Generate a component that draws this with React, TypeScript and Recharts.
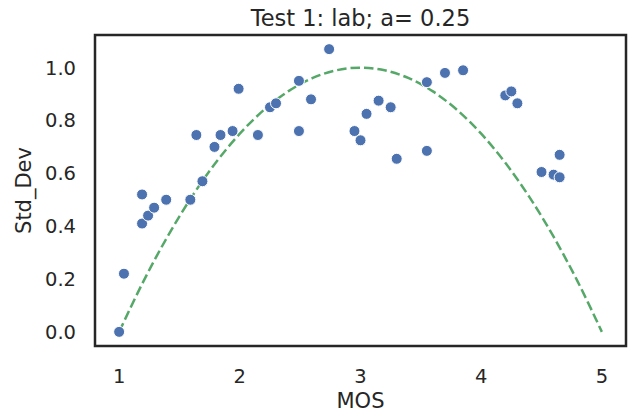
import { ComposedChart, Line, ReferenceArea, Scatter, XAxis, YAxis } from 'recharts';

// observed points (MOS vs std dev)
const mosValues = [
  1.0, 1.04, 1.19, 1.19, 1.24, 1.29, 1.39, 1.59, 1.69, 1.64, 1.79, 1.84, 1.94, 1.99, 2.15, 2.25, 2.3, 2.49,
  2.49, 2.59, 2.74, 2.95, 3.0, 3.05, 3.15, 3.25, 3.3, 3.55, 3.55, 3.7, 3.85, 4.2, 4.25, 4.3, 4.65, 4.5, 4.6,
  4.65,
];
const stdValues = [
  0.0, 0.22, 0.52, 0.41, 0.44, 0.47, 0.5, 0.5, 0.57, 0.745, 0.7, 0.745, 0.76, 0.92, 0.745, 0.85, 0.865, 0.76,
  0.95, 0.88, 1.07, 0.76, 0.725, 0.825, 0.875, 0.85, 0.655, 0.685, 0.945, 0.98, 0.99, 0.895, 0.91, 0.865, 0.67,
  0.605, 0.595, 0.585,
];

// fitted SOS curve, a = 0.25
const curveMos = [1.0, 1.2, 1.4, 1.6, 1.8, 2.0, 2.2, 2.4, 2.6, 2.8, 3.0, 3.2, 3.4, 3.6, 3.8, 4.0, 4.2, 4.4, 4.6, 4.8, 5.0];
const curveStd = [0, 0.19, 0.36, 0.51, 0.64, 0.75, 0.84, 0.91, 0.96, 0.99, 1.0, 0.99, 0.96, 0.91, 0.84, 0.75, 0.64, 0.51, 0.36, 0.19, 0];

const xTicks = [1, 2, 3, 4, 5];
const yTicks = [0, 0.2, 0.4, 0.6, 0.8, 1.0];

const TEXT = '#262626';
const FONT = '"DejaVu Sans", sans-serif';

const points = mosValues.map((x, i) => ({ x, y: stdValues[i] }));
const curve = curveMos.map((x, i) => ({ x, y: curveStd[i] }));

const X_DOMAIN: [number, number] = [0.8, 5.2];
const Y_DOMAIN: [number, number] = [-0.0535, 1.1235];

export default function App() {
  return (
    <div style={{ position: 'absolute', left: 0, top: 0, width: 628, height: 413, background: '#fff', fontFamily: FONT }}>
      <div
        style={{
          position: 'absolute',
          left: 95,
          width: 531,
          top: 5,
          textAlign: 'center',
          fontSize: 22.5,
          lineHeight: 'normal',
          color: TEXT,
          whiteSpace: 'nowrap',
        }}
      >
        Test 1: lab; a= 0.25
      </div>
      <ComposedChart width={628} height={413} margin={{ top: 35, right: 2, bottom: 7, left: 0 }}>
        <XAxis
          type="number"
          dataKey="x"
          domain={X_DOMAIN}
          ticks={xTicks}
          allowDataOverflow
          axisLine={false}
          tickLine={false}
          tickMargin={17}
          height={60}
          tick={{ fill: TEXT, fontSize: 19.5, fontFamily: FONT }}
          label={{ value: 'MOS', position: 'insideBottom', offset: -2, fill: TEXT, fontSize: 21, fontFamily: FONT }}
        />
        <YAxis
          type="number"
          dataKey="y"
          domain={Y_DOMAIN}
          ticks={yTicks}
          allowDataOverflow
          axisLine={false}
          tickLine={false}
          tickMargin={13}
          width={95}
          tickFormatter={(v: number) => v.toFixed(1)}
          tick={{ fill: TEXT, fontSize: 19.5, fontFamily: FONT }}
          label={{
            value: 'Std_Dev',
            angle: -90,
            position: 'insideLeft',
            offset: 24,
            style: { textAnchor: 'middle' },
            fill: TEXT,
            fontSize: 21,
            fontFamily: FONT,
          }}
        />
        <ReferenceArea
          x1={X_DOMAIN[0]}
          x2={X_DOMAIN[1]}
          y1={Y_DOMAIN[0]}
          y2={Y_DOMAIN[1]}
          fill="none"
          stroke={TEXT}
          strokeWidth={2.5}
          ifOverflow="visible"
        />
        <Scatter
          data={points}
          dataKey="y"
          isAnimationActive={false}
          shape={(p: any) => <circle cx={p.cx} cy={p.cy} r={5.5} fill="#4c72b0" stroke="#fff" strokeWidth={1} />}
        />
        <Line
          data={curve}
          dataKey="y"
          type="monotone"
          stroke="#55a868"
          strokeWidth={2.5}
          strokeDasharray="9.5 4"
          dot={false}
          activeDot={false}
          isAnimationActive={false}
        />
      </ComposedChart>
    </div>
  );
}
